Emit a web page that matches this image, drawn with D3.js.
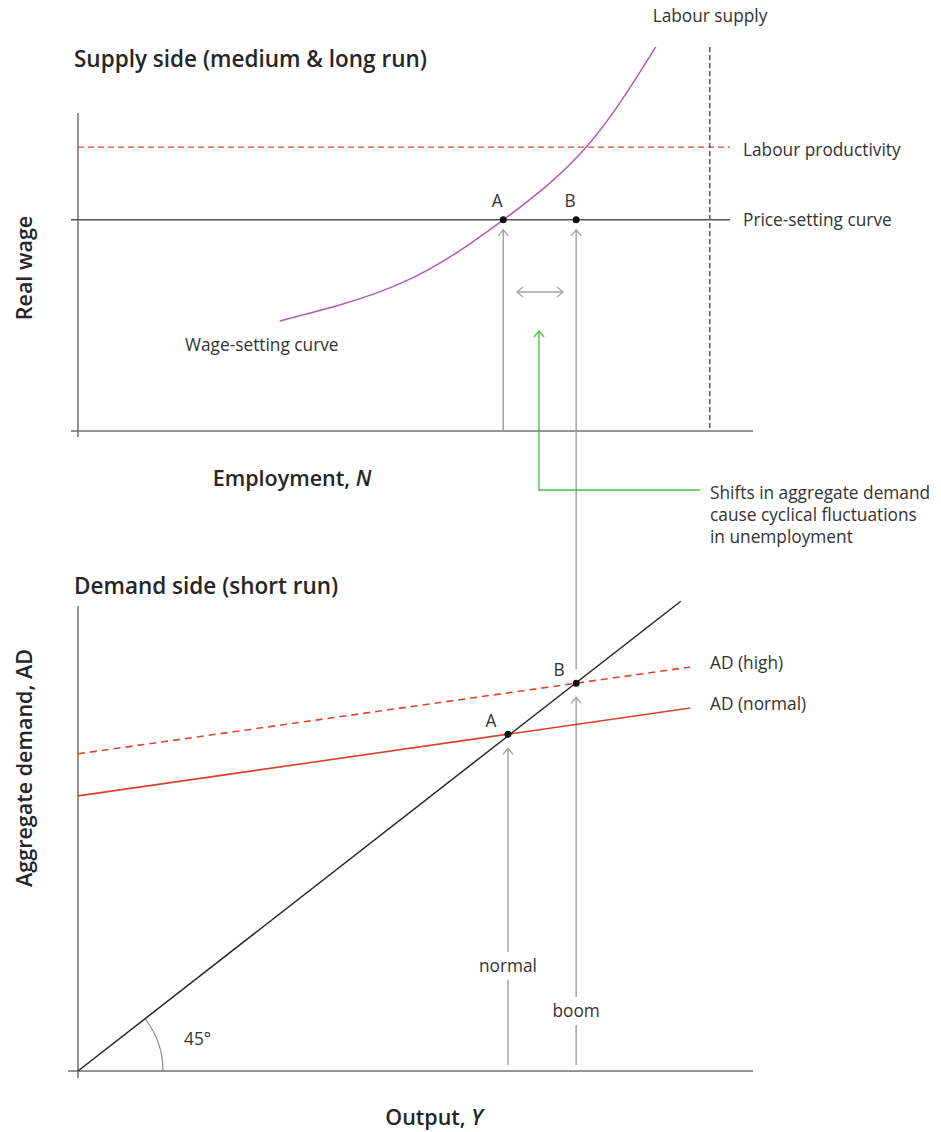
<!DOCTYPE html>
<html>
<head>
<meta charset="utf-8">
<script src="https://cdn.jsdelivr.net/npm/d3@7"></script>
<style>
  html, body { margin: 0; padding: 0; background: #fff; }
  svg { display: block; }
  text { font-family: "Open Sans", "Noto Sans", sans-serif; fill: #333; }
  .title { font-size: 22.5px; font-weight: 600; fill: #262626; }
  .axlab { font-size: 21.5px; font-weight: 600; fill: #262626; }
  .lab { font-size: 17.3px; }
</style>
</head>
<body>
<svg id="chart" width="941" height="1132"></svg>
<script>
// ---------- data (abstract model units 0..100) ----------
// Supply side: employment N vs real wage W
const wageSettingCurve = [
  [29.9, 34.6], [48.2, 46.8], [63.0, 66.4],
  [75.3, 89.3], [85.6, 120.8]
];
const priceSettingW = 66.4;
const labourProductivityW = 89.3;
const labourSupplyN = 93.6;
const supplyPoints = [ { name: "A", N: 63.0 }, { name: "B", N: 73.8 } ];

// Demand side: output Y vs aggregate demand AD
const line45 = [[0, 0], [89.3, 89.3]];
const adNormal = [[0, 52.3], [90.7, 69.0]];
const adHigh = [[0, 60.3], [90.7, 76.8]];
const demandPoints = [
  { name: "A", Y: 63.7, AD: 64.0, tag: "normal" },
  { name: "B", Y: 73.8, AD: 73.7, tag: "boom" }
];

// Labels
const supplyTitle = "Supply side (medium & long run)";
const demandTitle = "Demand side (short run)";
const noteLines = ["Shifts in aggregate demand", "cause cyclical fluctuations", "in unemployment"];

// ---------- layout ----------
const svg = d3.select("#chart");
const col = {
  axis: "#707070", black: "#262626", red: "#dd3f2b", redDash: "#e0452f",
  blue: "#4656a6", purple: "#b35cb3", gray: "#a3a3a3", green: "#4cbf45"
};

// Top panel scales
const xN = d3.scaleLinear().domain([0, 100]).range([78, 753]);
const yW = d3.scaleLinear().domain([0, 100]).range([431, 113]);
// Bottom panel scales (45-degree line in data units)
const xY = d3.scaleLinear().domain([0, 100]).range([78, 753]);
const yAD = d3.scaleLinear().domain([0, 100]).range([1071, 545]);

function chevronUp(g, x, y, color) {
  g.append("path").attr("d", `M${x-5},${y+6} L${x},${y} L${x+5},${y+6}`)
    .attr("fill", "none").attr("stroke", color).attr("stroke-width", 1.4);
}

// ===== TOP PANEL =====
const gTop = svg.append("g");
svg.append("text").attr("class", "title").attr("x", 74).attr("y", 67).text(supplyTitle);

// axes
gTop.append("line").attr("x1", xN(0)).attr("x2", xN(0)).attr("y1", yW(100)).attr("y2", yW(0) + 6)
  .attr("stroke", col.axis).attr("stroke-width", 1.5);
gTop.append("line").attr("x1", xN(0) - 7).attr("x2", xN(100)).attr("y1", yW(0)).attr("y2", yW(0))
  .attr("stroke", col.axis).attr("stroke-width", 1.5);

// labour productivity
gTop.append("line").attr("x1", xN(0)).attr("x2", xN(96.6))
  .attr("y1", yW(labourProductivityW)).attr("y2", yW(labourProductivityW))
  .attr("stroke", col.redDash).attr("stroke-width", 1.3).attr("stroke-dasharray", "6,4");
// labour supply
gTop.append("line").attr("x1", xN(labourSupplyN)).attr("x2", xN(labourSupplyN))
  .attr("y1", 47).attr("y2", yW(0))
  .attr("stroke", col.blue).attr("stroke-width", 1.5).attr("stroke-dasharray", "5,3");
// price setting
gTop.append("line").attr("x1", xN(0) - 7).attr("x2", xN(96.6))
  .attr("y1", yW(priceSettingW)).attr("y2", yW(priceSettingW))
  .attr("stroke", "#555").attr("stroke-width", 1.5);

// wage-setting curve
gTop.append("path").datum(wageSettingCurve)
  .attr("d", d3.line().x(d => xN(d[0])).y(d => yW(d[1])).curve(d3.curveNatural))
  .attr("fill", "none").attr("stroke", col.purple).attr("stroke-width", 1.5);

// vertical arrows top
const tA = supplyPoints[0], tB = supplyPoints[1];
gTop.append("line").attr("x1", xN(tA.N)).attr("x2", xN(tA.N)).attr("y1", yW(0)).attr("y2", yW(priceSettingW) + 10)
  .attr("stroke", col.gray).attr("stroke-width", 1.5);
chevronUp(gTop, xN(tA.N), yW(priceSettingW) + 10, col.gray);
// boom line from bottom panel up to top panel
const dB = demandPoints[1];
gTop.append("line").attr("x1", xN(tB.N)).attr("x2", xN(tB.N))
  .attr("y1", yAD(dB.AD) - 14).attr("y2", yW(priceSettingW) + 10)
  .attr("stroke", col.gray).attr("stroke-width", 1.5);
chevronUp(gTop, xN(tB.N), yW(priceSettingW) + 10, col.gray);

// double arrow
const dy = 292, dx1 = 517, dx2 = 563;
gTop.append("line").attr("x1", dx1).attr("x2", dx2).attr("y1", dy).attr("y2", dy)
  .attr("stroke", col.gray).attr("stroke-width", 1.4);
gTop.append("path").attr("d", `M${dx1+6},${dy-5} L${dx1},${dy} L${dx1+6},${dy+5}`)
  .attr("fill", "none").attr("stroke", col.gray).attr("stroke-width", 1.4);
gTop.append("path").attr("d", `M${dx2-6},${dy-5} L${dx2},${dy} L${dx2-6},${dy+5}`)
  .attr("fill", "none").attr("stroke", col.gray).attr("stroke-width", 1.4);

// points
supplyPoints.forEach(p => {
  gTop.append("circle").attr("cx", xN(p.N)).attr("cy", yW(priceSettingW)).attr("r", 3.5).attr("fill", "#111");
  gTop.append("text").attr("class", "lab").attr("x", xN(p.N) - 6).attr("y", 207)
    .attr("text-anchor", "middle").text(p.name);
});

// green annotation
gTop.append("path").attr("d", `M539,331 L539,490 L700,490`)
  .attr("fill", "none").attr("stroke", col.green).attr("stroke-width", 1.4);
chevronUp(gTop, 539, 331, col.green);
const note = svg.append("text").attr("class", "lab").attr("x", 710).attr("y", 499);
noteLines.forEach((t, i) => note.append("tspan").attr("x", 710).attr("dy", i === 0 ? 0 : 22).text(t));

// text labels top
svg.append("text").attr("class", "lab").attr("x", 710).attr("y", 22).attr("text-anchor", "middle").text("Labour supply");
svg.append("text").attr("class", "lab").attr("x", 743).attr("y", 156).text("Labour productivity");
svg.append("text").attr("class", "lab").attr("x", 743).attr("y", 226).text("Price-setting curve");
svg.append("text").attr("class", "lab").attr("x", 185).attr("y", 351).text("Wage-setting curve");

svg.append("text").attr("class", "axlab").attr("transform", "translate(32,268) rotate(-90)")
  .attr("text-anchor", "middle").text("Real wage");
const empl = svg.append("text").attr("class", "axlab").attr("x", 292).attr("y", 486).attr("text-anchor", "middle");
empl.append("tspan").text("Employment, ");
empl.append("tspan").attr("font-style", "italic").text("N");

// ===== BOTTOM PANEL =====
const gBot = svg.append("g");
svg.append("text").attr("class", "title").attr("x", 74).attr("y", 594).text(demandTitle);

gBot.append("line").attr("x1", xY(0)).attr("x2", xY(0)).attr("y1", 606).attr("y2", yAD(0) + 7)
  .attr("stroke", col.axis).attr("stroke-width", 1.5);
gBot.append("line").attr("x1", xY(0) - 10).attr("x2", xY(100)).attr("y1", yAD(0)).attr("y2", yAD(0))
  .attr("stroke", col.axis).attr("stroke-width", 1.5);

// 45 degree arc
const ang = Math.atan2(yAD(0) - yAD(line45[1][1]), xY(line45[1][0]) - xY(0));
const R = 85;
gBot.append("path")
  .attr("d", `M${xY(0) + R * Math.cos(ang)},${yAD(0) - R * Math.sin(ang)} A${R},${R} 0 0 1 ${xY(0) + R},${yAD(0)}`)
  .attr("fill", "none").attr("stroke", "#888").attr("stroke-width", 1.2);
svg.append("text").attr("class", "lab").attr("x", 184).attr("y", 1045).text("45°");

// vertical lines bottom
demandPoints.forEach(p => {
  gBot.append("line").attr("x1", xY(p.Y)).attr("x2", xY(p.Y)).attr("y1", yAD(0) - 6).attr("y2", yAD(p.AD) + 14)
    .attr("stroke", col.gray).attr("stroke-width", 1.5);
  chevronUp(gBot, xY(p.Y), yAD(p.AD) + 14, col.gray);
});

// AD lines
const adLine = d3.line().x(d => xY(d[0])).y(d => yAD(d[1]));
gBot.append("path").datum(adHigh).attr("d", adLine)
  .attr("fill", "none").attr("stroke", col.redDash).attr("stroke-width", 1.6).attr("stroke-dasharray", "7,5");
gBot.append("path").datum(adNormal).attr("d", adLine)
  .attr("fill", "none").attr("stroke", col.red).attr("stroke-width", 1.6);
// 45 line
gBot.append("path").datum(line45).attr("d", adLine)
  .attr("fill", "none").attr("stroke", col.black).attr("stroke-width", 1.5);

// points
demandPoints.forEach(p => {
  gBot.append("circle").attr("cx", xY(p.Y)).attr("cy", yAD(p.AD)).attr("r", 3.5).attr("fill", "#111");
  gBot.append("text").attr("class", "lab").attr("x", xY(p.Y) - 17).attr("y", yAD(p.AD) - 7)
    .attr("text-anchor", "middle").text(p.name);
});

// tags normal / boom with white background
const tagY = { normal: 966, boom: 1011 };
demandPoints.forEach(p => {
  const t = svg.append("text").attr("class", "lab").attr("x", xY(p.Y)).attr("y", tagY[p.tag] + 6)
    .attr("text-anchor", "middle").text(p.tag);
  const bb = t.node().getBBox();
  svg.insert("rect", () => t.node()).attr("x", bb.x - 2).attr("y", tagY[p.tag] - 14)
    .attr("width", bb.width + 4).attr("height", 28).attr("fill", "#fff");
});

svg.append("text").attr("class", "lab").attr("x", 710).attr("y", 669).text("AD (high)");
svg.append("text").attr("class", "lab").attr("x", 710).attr("y", 710).text("AD (normal)");

svg.append("text").attr("class", "axlab").attr("transform", "translate(32,768) rotate(-90)")
  .attr("text-anchor", "middle").text("Aggregate demand, AD");
const outp = svg.append("text").attr("class", "axlab").attr("x", 434).attr("y", 1125).attr("text-anchor", "middle");
outp.append("tspan").text("Output, ");
outp.append("tspan").attr("font-style", "italic").text("Y");
</script>
</body>
</html>
